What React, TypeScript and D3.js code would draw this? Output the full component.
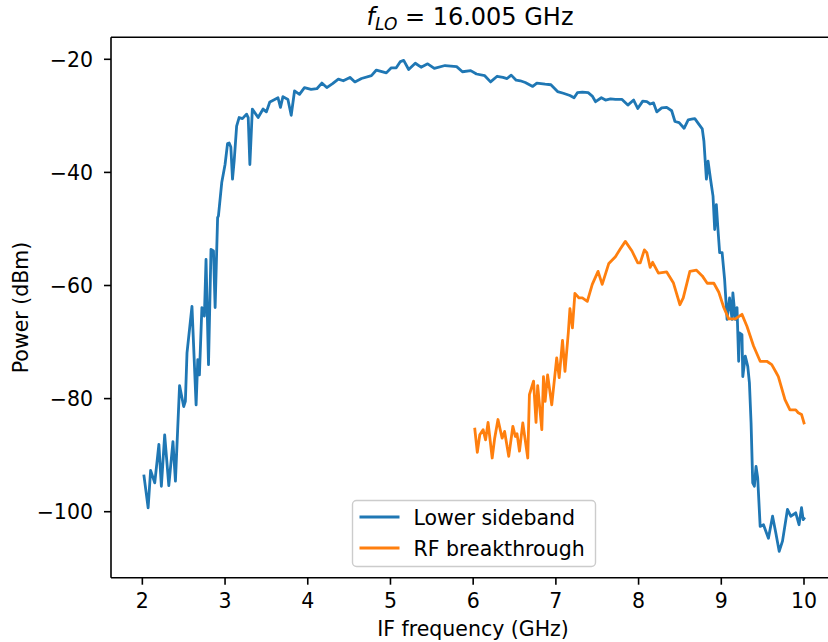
import React from "react";
import * as d3 from "d3";

const lsbFreq = [
  2.02, 2.07, 2.10, 2.15, 2.20, 2.23, 2.27, 2.32, 2.37, 2.40, 2.45, 2.50, 2.52, 2.54, 2.60, 2.65, 2.67, 2.69,
  2.72, 2.75, 2.77, 2.80, 2.83, 2.86, 2.88, 2.91, 2.92, 2.96, 3.00, 3.03, 3.05, 3.07, 3.09, 3.11, 3.14, 3.17,
  3.21, 3.26, 3.28, 3.30, 3.33, 3.40, 3.46, 3.50, 3.54, 3.56, 3.64, 3.67, 3.70, 3.76, 3.80, 3.84, 3.90, 3.96,
  4.04, 4.11, 4.17, 4.23, 4.30, 4.37, 4.43, 4.51, 4.57, 4.65, 4.77, 4.83, 4.95, 5.01, 5.07, 5.12, 5.16, 5.22,
  5.30, 5.37, 5.45, 5.53, 5.66, 5.73, 5.80, 5.87, 5.97, 6.04, 6.14, 6.21, 6.29, 6.36, 6.41, 6.46, 6.52, 6.57,
  6.63, 6.72, 6.77, 6.87, 6.94, 7.02, 7.09, 7.17, 7.22, 7.26, 7.32, 7.39, 7.44, 7.48, 7.55, 7.60, 7.66, 7.72,
  7.80, 7.87, 7.94, 7.99, 8.05, 8.10, 8.14, 8.18, 8.22, 8.28, 8.34, 8.40, 8.44, 8.49, 8.55, 8.60, 8.64, 8.68,
  8.73, 8.77, 8.79, 8.82, 8.84, 8.87, 8.90, 8.92, 8.94, 8.96, 8.98, 9.01, 9.04, 9.07, 9.10, 9.13, 9.14, 9.17,
  9.19, 9.21, 9.22, 9.25, 9.26, 9.29, 9.32, 9.34, 9.36, 9.38, 9.40, 9.42, 9.44, 9.47, 9.51, 9.57, 9.62, 9.66,
  9.70, 9.74, 9.80, 9.84, 9.90, 9.94, 9.97, 9.99, 10.0
];
const lsbPower = [
  -93.7, -99.3, -92.7, -94.9, -88.1, -95.5, -86.4, -95.4, -87.6, -94.6, -77.7, -81.4, -80.5, -71.9, -63.7, -81.1, -73.1, -75.8,
  -63.9, -65.4, -55.4, -74.0, -53.6, -53.9, -63.9, -48.0, -47.7, -41.8, -38.6, -34.9, -34.8, -35.5, -41.2, -38.0, -31.8, -30.3,
  -30.5, -29.7, -30.3, -38.6, -28.8, -30.3, -28.8, -29.3, -27.6, -27.4, -26.8, -28.5, -26.6, -27.1, -29.9, -25.6, -26.2, -25.0,
  -25.3, -25.2, -24.2, -25.0, -24.3, -23.5, -23.8, -23.2, -24.0, -23.4, -22.9, -21.9, -22.4, -21.5, -21.5, -20.4, -20.2, -21.8,
  -20.7, -21.4, -20.8, -21.6, -21.1, -21.2, -21.3, -22.2, -22.0, -22.6, -22.9, -24.0, -23.0, -23.2, -23.4, -22.8, -23.7, -23.8,
  -24.1, -24.8, -24.2, -24.4, -24.5, -25.7, -26.0, -26.4, -26.8, -25.9, -25.8, -25.9, -26.5, -27.5, -26.8, -27.2, -27.0, -27.1,
  -27.1, -28.1, -27.2, -28.7, -27.4, -27.5, -27.9, -27.7, -29.3, -28.6, -28.5, -29.1, -31.0, -31.2, -32.2, -30.7, -30.6, -30.5,
  -31.5, -32.3, -34.5, -41.2, -38.0, -41.2, -44.2, -50.1, -45.7, -50.1, -54.2, -54.2, -58.9, -66.0, -62.2, -66.0, -61.3, -66.0,
  -63.9, -73.4, -68.4, -68.7, -76.1, -72.5, -74.3, -77.2, -84.3, -94.9, -95.5, -92.0, -94.0, -102.6, -102.3, -104.7, -100.8, -103.8,
  -107.0, -105.2, -99.6, -100.8, -100.2, -102.3, -99.3, -101.4, -101.2
];

const rfFreq = [
  6.02, 6.05, 6.08, 6.12, 6.15, 6.18, 6.23, 6.26, 6.30, 6.35, 6.38, 6.43, 6.48, 6.51, 6.53, 6.56, 6.60, 6.66,
  6.68, 6.73, 6.76, 6.78, 6.83, 6.85, 6.87, 6.90, 6.95, 7.01, 7.04, 7.08, 7.11, 7.15, 7.17, 7.20, 7.23, 7.28,
  7.32, 7.38, 7.44, 7.51, 7.56, 7.64, 7.72, 7.78, 7.84, 7.92, 7.99, 8.02, 8.07, 8.10, 8.14, 8.17, 8.24, 8.34,
  8.42, 8.50, 8.54, 8.62, 8.70, 8.77, 8.83, 8.91, 8.97, 9.03, 9.09, 9.17, 9.25, 9.31, 9.39, 9.47, 9.55, 9.61,
  9.66, 9.69, 9.77, 9.83, 9.90, 9.93, 9.97, 10.0
];
const rfPower = [
  -85.4, -89.5, -86.4, -85.5, -87.3, -84.2, -90.5, -87.0, -83.7, -87.0, -85.8, -90.2, -84.9, -86.7, -86.2, -89.3, -84.3, -90.5,
  -79.3, -76.9, -84.2, -77.7, -85.5, -76.1, -80.5, -75.8, -81.1, -72.8, -76.3, -69.7, -75.2, -68.4, -64.1, -67.5, -61.4, -62.2,
  -62.2, -62.8, -59.8, -57.5, -59.8, -56.1, -54.9, -53.5, -52.2, -53.9, -56.0, -56.0, -53.7, -54.2, -56.8, -55.9, -57.8, -57.6,
  -59.5, -63.4, -62.2, -57.5, -57.3, -58.3, -59.6, -59.6, -61.2, -63.9, -65.9, -65.9, -65.1, -67.2, -70.7, -73.4, -73.4, -74.0,
  -75.3, -76.1, -80.2, -82.0, -82.0, -82.5, -82.8, -84.3
];

const xTicks = [2, 3, 4, 5, 6, 7, 8, 9, 10];
const yTicks = [-20, -40, -60, -80, -100];
const seriesNames = ["Lower sideband", "RF breakthrough"];
const seriesColors = ["#1f77b4", "#ff7f0e"];

const W = 828;
const H = 642;
const FONT = "DejaVu Sans, sans-serif";

export default function App() {
  const left = 111, right = 837, top = 37.3, bottom = 577.7;
  const x = d3.scaleLinear().domain([1.621, 10.399]).range([left, right]);
  const y = d3.scaleLinear().domain([-111.67, -16.11]).range([bottom, top]);
  const line = d3
    .line<[number, number]>()
    .x((d) => x(d[0]))
    .y((d) => y(d[1]));
  const lsb: [number, number][] = lsbFreq.map((f, i) => [f, lsbPower[i]]);
  const rf: [number, number][] = rfFreq.map((f, i) => [f, rfPower[i]]);
  const fs = 20.5;
  const fmt = (v: number) => (v < 0 ? "\u2212" + Math.abs(v) : String(v));

  const legX = 352.5, legY = 500.5, legW = 243, legH = 66;

  return (
    <svg
      width={W}
      height={H}
      style={{ position: "absolute", left: 0, top: 0, background: "#fff" }}
      fontFamily={FONT}
    >
      <rect x={0} y={0} width={W} height={H} fill="#fff" />
      <defs>
        <clipPath id="plotclip">
          <rect x={left} y={top} width={right - left} height={bottom - top} />
        </clipPath>
      </defs>
      <g clipPath="url(#plotclip)">
        <path d={line(lsb) ?? ""} fill="none" stroke={seriesColors[0]} strokeWidth={2.8} strokeLinejoin="round" strokeLinecap="square" />
        <path d={line(rf) ?? ""} fill="none" stroke={seriesColors[1]} strokeWidth={2.8} strokeLinejoin="round" strokeLinecap="square" />
      </g>
      {/* spines */}
      <line x1={left} x2={left} y1={top} y2={bottom} stroke="#000" strokeWidth={1.6} />
      <line x1={left} x2={W} y1={bottom} y2={bottom} stroke="#000" strokeWidth={1.6} />
      <line x1={left} x2={W} y1={top} y2={top} stroke="#000" strokeWidth={1.6} />
      {/* x ticks */}
      {xTicks.map((t) => (
        <g key={"x" + t}>
          <line x1={x(t)} x2={x(t)} y1={bottom} y2={bottom + 7} stroke="#000" strokeWidth={1.6} />
          <text x={x(t)} y={bottom + 30} textAnchor="middle" fontSize={fs} fill="#000">
            {fmt(t)}
          </text>
        </g>
      ))}
      {/* y ticks */}
      {yTicks.map((t) => (
        <g key={"y" + t}>
          <line x1={left - 7} x2={left} y1={y(t)} y2={y(t)} stroke="#000" strokeWidth={1.6} />
          <text x={left - 18} y={y(t) + 7.5} textAnchor="end" fontSize={fs} fill="#000">
            {fmt(t)}
          </text>
        </g>
      ))}
      {/* axis labels */}
      <text x={473} y={636} textAnchor="middle" fontSize={fs} fill="#000">
        IF frequency (GHz)
      </text>
      <text transform={`translate(28,${(top + bottom) / 2}) rotate(-90)`} textAnchor="middle" fontSize={fs} fill="#000">
        Power (dBm)
      </text>
      {/* title */}
      <text x={470} y={25} textAnchor="middle" fontSize={24} fill="#000">
        <tspan fontStyle="italic">f</tspan>
        <tspan fontStyle="italic" fontSize={17} dy={5}>LO</tspan>
        <tspan dy={-5}>{" = 16.005 GHz"}</tspan>
      </text>
      {/* legend */}
      <rect x={legX} y={legY} width={legW} height={legH} rx={4} fill="#fff" fillOpacity={0.8} stroke="#cccccc" strokeWidth={1.4} />
      {seriesNames.map((n, i) => {
        const cy = legY + 16.5 + i * 31;
        return (
          <g key={n}>
            <line x1={legX + 7} x2={legX + 47} y1={cy} y2={cy} stroke={seriesColors[i]} strokeWidth={2.8} />
            <text x={legX + 61} y={cy + 7.5} fontSize={fs} fill="#000">
              {n}
            </text>
          </g>
        );
      })}
    </svg>
  );
}
